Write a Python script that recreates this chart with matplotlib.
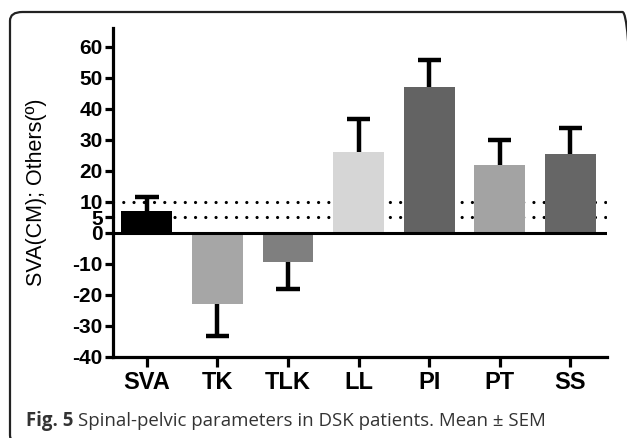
import matplotlib
matplotlib.use("Agg")
import matplotlib.pyplot as plt
from matplotlib.patches import FancyBboxPatch

categories = ["SVA", "TK", "TLK", "LL", "PI", "PT", "SS"]
means = [7.0, -23.0, -9.3, 26.0, 47.0, 22.0, 25.5]
sems = [4.6, 10.2, 8.8, 10.7, 8.8, 7.8, 8.4]
colors = ["#000000", "#a6a6a6", "#7f7f7f", "#d6d6d6", "#636363", "#a3a3a3", "#666666"]
ref_lines = [5, 10]
yticks = [-40, -30, -20, -10, 0, 5, 10, 20, 30, 40, 50, 60]
ylabel = "SVA(CM); Others(º)"

W, H = 627, 438
fig = plt.figure(figsize=(W / 100, H / 100), dpi=100)

def px(x0, y0, x1, y1):
    return [x0 / W, 1 - y1 / H, (x1 - x0) / W, (y1 - y0) / H]

ax = fig.add_axes(px(113, 28, 607, 357))
x = list(range(len(categories)))

for y in ref_lines:
    ax.axhline(y, color="black", lw=2.3, linestyle=(0, (0.01, 3.2)),
               dash_capstyle="round", zorder=1)

ax.bar(x, means, width=0.72, color=colors, zorder=2)
ax.axhline(0, color="black", lw=2.2, zorder=3)

tips = [m + s if m >= 0 else m - s for m, s in zip(means, sems)]
ax.vlines(x, means, tips, color="black", lw=3.2, zorder=4)
ax.hlines(tips, [i - 0.165 for i in x], [i + 0.165 for i in x],
          color="black", lw=3.2, zorder=4)

ax.set_xlim(-0.48, 6.52)
ax.set_ylim(-40, 66)
ax.set_yticks(yticks)
ax.set_yticklabels([str(t) for t in yticks])
ax.set_xticks(x)
ax.set_xticklabels(categories)

for s in ["top", "right"]:
    ax.spines[s].set_visible(False)
for s in ["left", "bottom"]:
    ax.spines[s].set_linewidth(2.3)

ax.tick_params(axis="y", length=6, width=2.3, pad=1.5, direction="out")
ax.tick_params(axis="x", length=7, width=2.3, pad=3, direction="out")
for lab in ax.get_yticklabels():
    lab.set_fontfamily("Liberation Sans")
    lab.set_fontweight("bold")
    lab.set_fontsize(15)
for lab in ax.get_xticklabels():
    lab.set_fontfamily("Liberation Sans")
    lab.set_fontweight("bold")
    lab.set_fontsize(17)

ax.set_ylabel(ylabel, fontfamily="Liberation Sans", fontsize=15.5)
ax.yaxis.set_label_coords((47 - 113) / (607 - 113), 0.5)

# caption
t1 = fig.text(26 / W, 1 - 426 / H, "Fig. 5", fontfamily="Open Sans", fontweight="bold",
              fontsize=13.4, color="#333333", va="baseline")
fig.canvas.draw()
bb = t1.get_window_extent()
fig.text((bb.x1 + 5) / W, 1 - 426 / H, "Spinal-pelvic parameters in DSK patients. Mean ± SEM",
         fontfamily="Open Sans", fontsize=13.4, color="#333333", va="baseline")

# frame
frame = FancyBboxPatch((10 / W, 1 - 444 / H), 625 / W, 432 / H,
                       boxstyle="round,pad=0,rounding_size=0.02",
                       transform=fig.transFigure, fill=False, lw=1.6,
                       edgecolor="#222222", clip_on=False)
fig.patches.append(frame)

fig.savefig("out.png", dpi=100)
